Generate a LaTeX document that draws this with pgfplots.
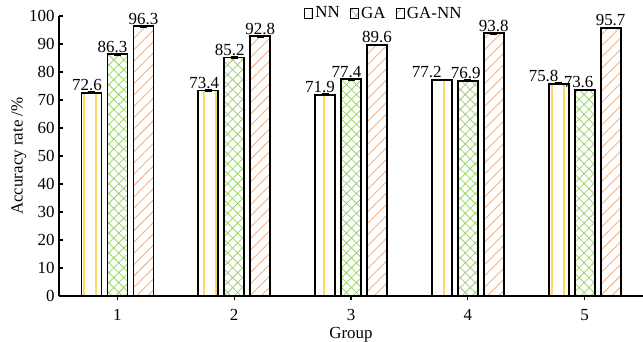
\documentclass[border=0pt]{standalone}
\usepackage{pgfplots}
\usepackage{pgfplotstable}
\pgfplotsset{compat=1.18}
\usepackage{fontspec}
\setmainfont{Liberation Serif}
\usetikzlibrary{patterns.meta}
\definecolor{nnc}{HTML}{FFD966}
\definecolor{gac}{HTML}{9BD468}
\definecolor{gnc}{HTML}{F4B183}
\pgfplotstableread{
x y e dx
1 72.6 0.3 -4.5
2 73.4 0.3 -4
3 71.9 0.3 -5
4 77.2 0.3 -15
5 75.8 0.3 -15
}\tnn
\pgfplotstableread{
x y e dx
1 86.3 0.3 -5
2 85.2 0.3 -4.5
3 77.4 0.3 -4.5
4 76.9 0.3 -2
5 73.6 0.3 -6
}\tga
\pgfplotstableread{
x y e dx
1 96.3 0.3 0
2 92.8 0.3 0
3 89.6 0.3 0
4 93.8 0.3 0
5 95.7 0.3 0
}\tgann
\begin{document}
\begin{tikzpicture}
\path[use as bounding box] (-59bp,-46bp) rectangle (584bp,296bp);
\begin{axis}[
  at={(0,0)}, anchor=south west,
  width=584bp, height=280bp, scale only axis,
  xmin=0.5, xmax=5.5, ymin=0, ymax=100,
  axis x line=bottom, axis y line=left,
  axis line style={-, line width=1.3pt},
  xtick={1,2,3,4,5}, ytick={0,10,...,100},
  tick align=inside, major tick length=4bp,
  tick style={line width=1.3pt, black},
  /pgf/number format/assume math mode=true,
  ybar=6bp, bar width=20bp,
  tick label style={font=\fontsize{17}{20}\selectfont},
  yticklabel style={xshift=-1bp},
  xticklabel style={yshift=-6bp},
  label style={font=\fontsize{17}{20}\selectfont},
  xlabel={Group}, ylabel={Accuracy rate /\%},
  xlabel style={yshift=0.5bp},
  ylabel style={yshift=-4bp},
  visualization depends on={\thisrow{dx} \as \dx},
  nodes near coords,
  every node near coord/.append style={font=\fontsize{17}{20}\selectfont, anchor=south, inner sep=1bp, xshift=\dx bp,
    /pgf/number format/.cd, fixed, fixed zerofill, precision=1, assume math mode=true},
  legend columns=3,
  legend style={draw=none, fill=none, at={(rel axis cs:0.556,1.01)}, anchor=center,
    font=\fontsize{17}{20}\selectfont, inner sep=0pt,
    /tikz/every even column/.append style={column sep=8bp}},
  legend image code/.code={\draw[#1, line width=1.4pt] (0bp,-5bp) rectangle (8bp,5bp);},
  error bars/y dir=both, error bars/y explicit,
  error bars/error mark options={rotate=90, mark size=3.5bp, line width=1pt, black},
  error bars/error bar style={line width=1pt, black, solid},
]
\addplot[draw=black, line width=1.8pt, pattern={Lines[angle=90, distance=12bp, line width=1.2bp]}, pattern color=nnc]
  table[x=x, y=y, y error=e] {\tnn};
\addplot[draw=black, line width=1.8pt, pattern={Hatch[angle=45, distance=7bp, line width=0.8bp]}, pattern color=gac]
  table[x=x, y=y, y error=e] {\tga};
\addplot[draw=black, line width=1.8pt, pattern={Lines[angle=45, distance=8bp, line width=0.9bp]}, pattern color=gnc]
  table[x=x, y=y, y error=e] {\tgann};
\legend{NN, GA, GA-NN}
\end{axis}
\end{tikzpicture}
\end{document}
